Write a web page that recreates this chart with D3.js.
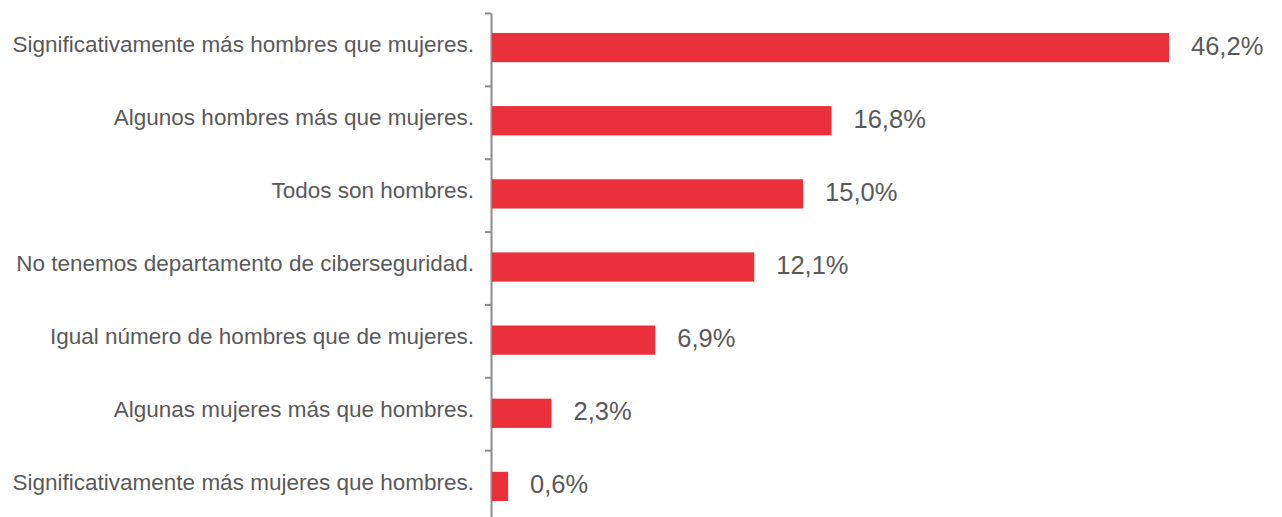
<!DOCTYPE html>
<html>
<head>
<meta charset="utf-8">
<script src="https://cdn.jsdelivr.net/npm/d3@7"></script>
<style>
  html, body { margin: 0; padding: 0; background: #ffffff; }
  svg { display: block; }
  .label { font-family: Arial, "Liberation Sans", Helvetica, sans-serif; font-size: 22.5px; fill: #595959; }
  .value { font-family: Arial, "Liberation Sans", Helvetica, sans-serif; font-size: 25.5px; fill: #595959; }
</style>
</head>
<body>
<svg id="chart" width="1282" height="517"></svg>
<script>
// ----------

const CATEGORIES = [
  "Significativamente más hombres que mujeres.",
  "Algunos hombres más que mujeres.",
  "Todos son hombres.",
  "No tenemos departamento de ciberseguridad.",
  "Igual número de hombres que de mujeres.",
  "Algunas mujeres más que hombres.",
  "Significativamente más mujeres que hombres."
];
const VALUES = [46.2, 16.8, 15.0, 12.1, 6.9, 2.3, 0.6];

const BAR_COLOR = "#e9303b";
const AXIS_COLOR = "#8c8c8c";

// ----------

const svg = d3.select("#chart");

const esLocale = d3.formatLocale({ decimal: ",", thousands: ".", grouping: [3], currency: ["", " €"] });
const fmt = esLocale.format(".1f");

// the source bars are not drawn to a linear scale, a symlog one follows them closely
const x = d3.scaleSymlog()
  .constant(22)
  .domain([0, d3.max(VALUES)])
  .range([492, 1169]);

const y = d3.scaleBand()
  .domain(CATEGORIES)
  .range([11, 523])
  .paddingInner(0.6)
  .paddingOuter(0.3);

// boundary ticks between the categories
const yEdges = d3.scaleLinear()
  .domain([0, CATEGORIES.length])
  .range([y.range()[0] + 2, y.range()[1]]);

const axis = svg.append("g")
  .attr("transform", "translate(491,0)")
  .call(d3.axisLeft(yEdges)
    .tickValues(d3.range(CATEGORIES.length + 1))
    .tickSize(6)
    .tickSizeOuter(0)
    .tickFormat(""));

axis.select(".domain").attr("stroke", AXIS_COLOR).attr("stroke-width", 2);
axis.selectAll(".tick line").attr("stroke", AXIS_COLOR).attr("stroke-width", 2);

svg.append("g")
  .selectAll("rect")
  .data(VALUES)
  .enter()
  .append("rect")
  .attr("x", x(0))
  .attr("y", function (d, i) { return y(CATEGORIES[i]); })
  .attr("width", function (d) { return x(d) - x(0); })
  .attr("height", y.bandwidth())
  .attr("fill", BAR_COLOR);

svg.append("g")
  .selectAll("text")
  .data(CATEGORIES)
  .enter()
  .append("text")
  .attr("class", "label")
  .attr("x", 474)
  .attr("y", function (d) { return y(d) + y.bandwidth() / 2 + 4; })
  .attr("text-anchor", "end")
  .text(function (d) { return d; });

svg.append("g")
  .selectAll("text")
  .data(VALUES)
  .enter()
  .append("text")
  .attr("class", "value")
  .attr("x", function (d) { return x(d) + 22; })
  .attr("y", function (d, i) { return y(CATEGORIES[i]) + y.bandwidth() / 2 + 7; })
  .text(function (d) { return fmt(d) + "%"; });
</script>
</body>
</html>
